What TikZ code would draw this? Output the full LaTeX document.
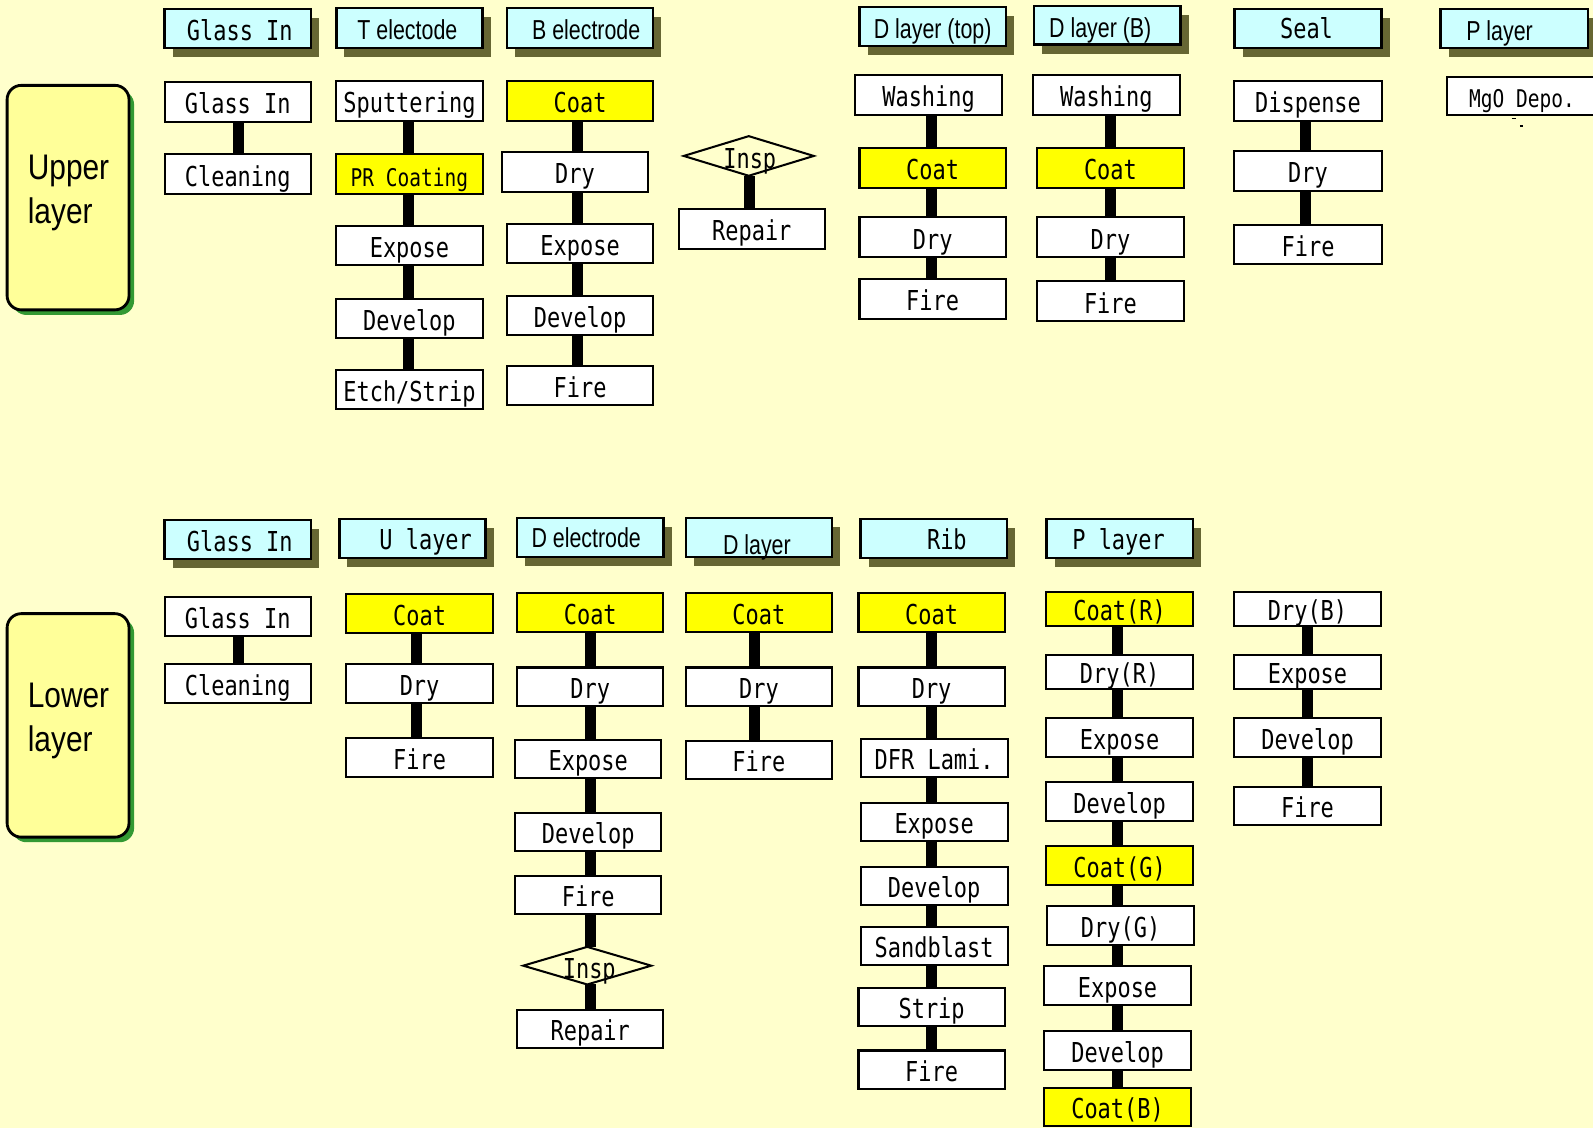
\documentclass[tikz,border=0pt]{standalone}
\usepackage{fontspec}
\newfontfamily\stepfont[FakeStretch=0.80]{DejaVu Sans Mono}
\newfontfamily\narrowfont[FakeStretch=0.78]{Liberation Sans}
\newfontfamily\bigfont[FakeStretch=0.84]{Liberation Sans}
\definecolor{bgcol}{HTML}{FFFFCC}
\definecolor{headcyan}{HTML}{CCFFFF}
\definecolor{coatyellow}{HTML}{FFFF00}
\definecolor{layerfill}{HTML}{FFFF99}
\definecolor{shadowolive}{HTML}{666633}
\definecolor{layershadow}{HTML}{339933}
\tikzset{
  stepbox/.style={draw=black, line width=1pt, fill=white, inner sep=0pt, outer sep=0pt,
    font=\stepfont\fontsize{13.5}{14}\selectfont, text height=11.6pt, text depth=0pt},
  yellowbox/.style={stepbox, fill=coatyellow},
  smallstep/.style={font=\stepfont\fontsize{12}{13}\selectfont},
  headbox/.style={draw=black, line width=1.2pt, fill=headcyan, inner sep=0pt, outer sep=0pt},
  hshadow/.style={fill=shadowolive, draw=none},
  bar/.style={line width=5.4pt, draw=black},
  monotext/.style={font=\stepfont\fontsize{13.5}{14}\selectfont, anchor=base, inner sep=0pt},
  narrowtext/.style={font=\narrowfont\fontsize{13.5}{14}\selectfont, anchor=base, inner sep=0pt},
  bigtext/.style={font=\bigfont\fontsize{17.5}{17}\selectfont, anchor=base west, inner sep=0pt},
  diamondline/.style={draw=black, line width=1pt},
  layerbox/.style={draw=black, line width=1.4pt, fill=layerfill, rounded corners=7pt},
  layershadowbox/.style={fill=layershadow, draw=none, rounded corners=7pt},
}
% #1 style, #2 name, #3 x1, #4 y1, #5 x2, #6 y2, #7 text
\newcommand\StepBox[7]{%
  \node[#1, minimum width={(#5-#3)*0.5}, minimum height={(#6-#4)*0.5}] (#2) at ({(#3+#5)/2},{(#4+#6)/2}) {#7};}
% #1 name, #2 x1, #3 y1, #4 x2, #5 y2, #6 text style, #7 tx, #8 ty, #9 text
\newcommand\HeadBox[9]{%
  \fill[hshadow] (#2+8,#3+9) rectangle (#4+8,#5+9);
  \node[headbox, minimum width={(#4-#2)*0.5}, minimum height={(#5-#3)*0.5}] (#1) at ({(#2+#4)/2},{(#3+#5)/2}) {};
  \node[#6] (#1t) at (#7,#8) {#9};}
% #1 column coordinate, #2 upper node, #3 lower node
\newcommand\Link[3]{\draw[bar] (#1 |- #2.south) -- (#1 |- #3.north);}
\begin{document}
\begin{tikzpicture}[x=0.5pt, y=-0.5pt]
\useasboundingbox (0,0) rectangle (1568,1110);
\fill[bgcol] (0,0) rectangle (1568,1110);

% ---------- layer labels ----------
\fill[layershadowbox] (12,89) rectangle (132,310);
\draw[layerbox] (7,84) rectangle (127,305);
\node[bigtext] (ul1) at (27,177) {Upper};
\node[bigtext] (ul2) at (27,220) {layer};
\fill[layershadowbox] (12,609) rectangle (132,829);
\draw[layerbox] (7,604) rectangle (127,824);
\node[bigtext] (ll1) at (27,696) {Lower};
\node[bigtext] (ll2) at (27,740) {layer};

% ---------- column coordinates ----------
\coordinate (xgA) at (235,0);
\coordinate (xt) at (402,0);
\coordinate (xb) at (568,0);
\coordinate (xi) at (738,0);
\coordinate (xd) at (917,0);
\coordinate (xe) at (1093,0);
\coordinate (xs) at (1285,0);
\coordinate (xgB) at (235,0);
\coordinate (xu) at (410,0);
\coordinate (xde) at (581,0);
\coordinate (xdl) at (743,0);
\coordinate (xr) at (917,0);
\coordinate (xp) at (1100,0);
\coordinate (xq) at (1287,0);

% ---------- headers (upper) ----------
\HeadBox{hA}{162}{9}{306}{47}{monotext}{236}{40}{Glass In}
\HeadBox{hB}{331}{8}{475}{47}{narrowtext}{401}{39}{T electode}
\HeadBox{hC}{499}{8}{643}{47}{narrowtext}{577}{39}{B electrode}
\HeadBox{hD}{846}{7}{990}{45}{narrowtext}{918}{38}{D layer (top)}
\HeadBox{hE}{1018}{6}{1162}{44}{narrowtext}{1083}{37}{D layer (B)}
\HeadBox{hF}{1215}{9}{1360}{47}{monotext}{1286}{38}{Seal}
\HeadBox{hG}{1418}{9}{1563}{47}{narrowtext}{1476}{40}{P layer}
% ---------- headers (lower) ----------
\HeadBox{hH}{162}{512}{306}{550}{monotext}{236}{543}{Glass In}
\HeadBox{hI}{334}{511}{478}{549}{monotext}{419}{541}{U layer}
\HeadBox{hJ}{509}{510}{653}{548}{narrowtext}{577}{539}{D electrode}
\HeadBox{hK}{675}{510}{819}{548}{narrowtext}{745}{546}{D layer}
\HeadBox{hL}{847}{511}{991}{549}{monotext}{932}{541}{Rib}
\HeadBox{hM}{1030}{511}{1174}{549}{monotext}{1101}{541}{P layer}

% ---------- upper ----------
\StepBox{stepbox}{gA1}{162}{81}{306}{120}{Glass In}
\StepBox{stepbox}{gA2}{162}{152}{306}{191}{Cleaning}
\StepBox{stepbox}{t1}{331}{80}{475}{119}{Sputtering}
\StepBox{yellowbox,smallstep}{t2}{331}{152}{475}{191}{PR Coating}
\StepBox{stepbox}{t3}{331}{222}{475}{261}{Expose}
\StepBox{stepbox}{t4}{331}{294}{475}{333}{Develop}
\StepBox{stepbox}{t5}{331}{364}{475}{403}{Etch/Strip}
\StepBox{yellowbox}{b1}{499}{80}{643}{119}{Coat}
\StepBox{stepbox}{b2}{494}{150}{638}{189}{Dry}
\StepBox{stepbox}{b3}{499}{220}{643}{259}{Expose}
\StepBox{stepbox}{b4}{499}{291}{643}{330}{Develop}
\StepBox{stepbox}{b5}{499}{360}{643}{399}{Fire}
\node[minimum width=64pt, minimum height=19.5pt, inner sep=0pt, outer sep=0pt] (ins1) at (737,153.5) {};
\draw[diamondline] (ins1.west) -- (ins1.north) -- (ins1.east) -- (ins1.south) -- cycle;
\StepBox{stepbox}{rep1}{668}{206}{812}{245}{Repair}
\StepBox{stepbox}{d1}{842}{74}{986}{113}{Washing}
\StepBox{yellowbox}{d2}{846}{146}{990}{185}{Coat}
\StepBox{stepbox}{d3}{846}{214}{990}{253}{Dry}
\StepBox{stepbox}{d4}{846}{275}{990}{314}{Fire}
\StepBox{stepbox}{e1}{1017}{74}{1161}{113}{Washing}
\StepBox{yellowbox}{e2}{1021}{146}{1165}{185}{Coat}
\StepBox{stepbox}{e3}{1021}{214}{1165}{253}{Dry}
\StepBox{stepbox}{e4}{1021}{277}{1165}{316}{Fire}
\StepBox{stepbox}{s1}{1215}{80}{1360}{119}{Dispense}
\StepBox{stepbox}{s2}{1215}{149}{1360}{188}{Dry}
\StepBox{stepbox}{s3}{1215}{221}{1360}{260}{Fire}
\StepBox{stepbox,smallstep}{m1}{1424}{76}{1572}{113}{MgO Depo.}
\draw[line width=0.6pt] (1488,117) -- (1492,117);
\draw[line width=0.6pt] (1496,124) -- (1499,124);

\Link{xgA}{gA1}{gA2}
\Link{xt}{t1}{t2}\Link{xt}{t2}{t3}\Link{xt}{t3}{t4}\Link{xt}{t4}{t5}
\Link{xb}{b1}{b2}\Link{xb}{b2}{b3}\Link{xb}{b3}{b4}\Link{xb}{b4}{b5}
\Link{xi}{ins1}{rep1}
\Link{xd}{d1}{d2}\Link{xd}{d2}{d3}\Link{xd}{d3}{d4}
\Link{xe}{e1}{e2}\Link{xe}{e2}{e3}\Link{xe}{e3}{e4}
\Link{xs}{s1}{s2}\Link{xs}{s2}{s3}
\node[monotext] (insp1) at (738,166) {Insp};

% ---------- lower ----------
\StepBox{stepbox}{gB1}{162}{588}{306}{626}{Glass In}
\StepBox{stepbox}{gB2}{162}{654}{306}{692}{Cleaning}
\StepBox{yellowbox}{u1}{341}{585}{485}{623}{Coat}
\StepBox{stepbox}{u2}{341}{654}{485}{692}{Dry}
\StepBox{stepbox}{u3}{341}{726}{485}{765}{Fire}
\StepBox{yellowbox}{de1}{509}{584}{653}{622}{Coat}
\StepBox{stepbox}{de2}{509}{657}{653}{695}{Dry}
\StepBox{stepbox}{de3}{507}{728}{651}{766}{Expose}
\StepBox{stepbox}{de4}{507}{800}{651}{838}{Develop}
\StepBox{stepbox}{de5}{507}{862}{651}{900}{Fire}
\node[minimum width=63pt, minimum height=18.5pt, inner sep=0pt, outer sep=0pt] (ins2) at (578,950.5) {};
\draw[diamondline] (ins2.west) -- (ins2.north) -- (ins2.east) -- (ins2.south) -- cycle;
\StepBox{stepbox}{rep2}{509}{994}{653}{1032}{Repair}
\StepBox{yellowbox}{dl1}{675}{584}{819}{622}{Coat}
\StepBox{stepbox}{dl2}{675}{657}{819}{695}{Dry}
\StepBox{stepbox}{dl3}{675}{729}{819}{767}{Fire}
\StepBox{yellowbox}{r1}{845}{584}{989}{622}{Coat}
\StepBox{stepbox}{r2}{845}{657}{989}{695}{Dry}
\StepBox{stepbox}{r3}{847}{727}{992}{765}{DFR Lami.}
\StepBox{stepbox}{r4}{847}{790}{992}{828}{Expose}
\StepBox{stepbox}{r5}{847}{853}{992}{891}{Develop}
\StepBox{stepbox}{r6}{847}{912}{992}{950}{Sandblast}
\StepBox{stepbox}{r7}{845}{972}{989}{1010}{Strip}
\StepBox{stepbox}{r8}{845}{1034}{989}{1072}{Fire}
\StepBox{yellowbox}{p1}{1030}{583}{1174}{616}{Coat(R)}
\StepBox{stepbox}{p2}{1030}{645}{1174}{678}{Dry(R)}
\StepBox{stepbox}{p3}{1030}{707}{1174}{745}{Expose}
\StepBox{stepbox}{p4}{1030}{770}{1174}{808}{Develop}
\StepBox{yellowbox}{p5}{1030}{833}{1174}{871}{Coat(G)}
\StepBox{stepbox}{p6}{1031}{892}{1175}{930}{Dry(G)}
\StepBox{stepbox}{p7}{1028}{951}{1172}{989}{Expose}
\StepBox{stepbox}{p8}{1028}{1015}{1172}{1053}{Develop}
\StepBox{yellowbox}{p9}{1028}{1071}{1172}{1108}{Coat(B)}
\StepBox{stepbox}{q1}{1215}{583}{1359}{616}{Dry(B)}
\StepBox{stepbox}{q2}{1215}{645}{1359}{678}{Expose}
\StepBox{stepbox}{q3}{1215}{707}{1359}{745}{Develop}
\StepBox{stepbox}{q4}{1215}{775}{1359}{812}{Fire}

\Link{xgB}{gB1}{gB2}
\Link{xu}{u1}{u2}\Link{xu}{u2}{u3}
\Link{xde}{de1}{de2}\Link{xde}{de2}{de3}\Link{xde}{de3}{de4}\Link{xde}{de4}{de5}
\Link{xde}{de5}{ins2}\Link{xde}{ins2}{rep2}
\Link{xdl}{dl1}{dl2}\Link{xdl}{dl2}{dl3}
\Link{xr}{r1}{r2}\Link{xr}{r2}{r3}\Link{xr}{r3}{r4}\Link{xr}{r4}{r5}\Link{xr}{r5}{r6}\Link{xr}{r6}{r7}\Link{xr}{r7}{r8}
\Link{xp}{p1}{p2}\Link{xp}{p2}{p3}\Link{xp}{p3}{p4}\Link{xp}{p4}{p5}\Link{xp}{p5}{p6}\Link{xp}{p6}{p7}\Link{xp}{p7}{p8}\Link{xp}{p8}{p9}
\Link{xq}{q1}{q2}\Link{xq}{q2}{q3}\Link{xq}{q3}{q4}
\node[monotext] (insp2) at (580,963) {Insp};
\end{tikzpicture}
\end{document}
